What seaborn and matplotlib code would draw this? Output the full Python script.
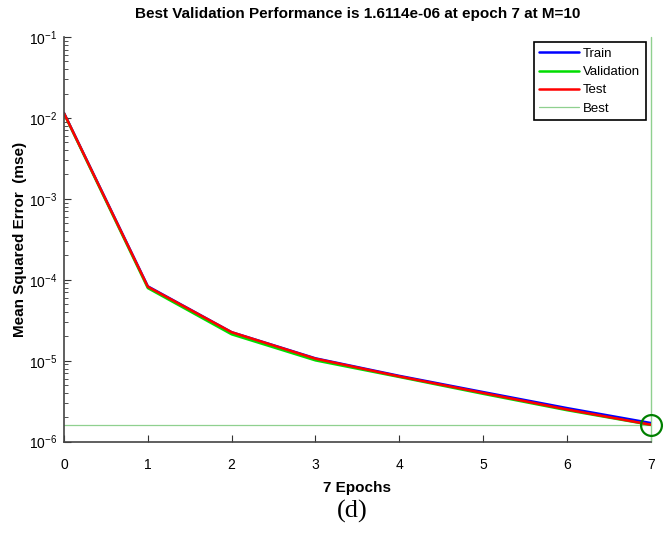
import numpy as np
import pandas as pd
import matplotlib
matplotlib.use("Agg")
import matplotlib.pyplot as plt
import seaborn as sns
from matplotlib.ticker import LogLocator, FixedLocator

# performance values
epochs = [0, 1, 2, 3, 4, 5, 6, 7]
train_mse = [1.15e-2, 8.3e-5, 2.25e-5, 1.07e-5, 6.5e-6, 4.1e-6, 2.6e-6, 1.70e-6]
val_mse = [1.13e-2, 7.9e-5, 2.12e-5, 1.01e-5, 6.3e-6, 3.9e-6, 2.45e-6, 1.6114e-6]
test_mse = [1.14e-2, 8.2e-5, 2.25e-5, 1.06e-5, 6.4e-6, 4.0e-6, 2.5e-6, 1.62e-6]
best_epoch = 7
best_perf = 1.6114e-6

df = pd.DataFrame({
    "epoch": epochs * 3,
    "mse": train_mse + val_mse + test_mse,
    "set": ["Train"] * 8 + ["Validation"] * 8 + ["Test"] * 8,
})

sns.set_style("ticks")
plt.rcParams["font.family"] = ["Liberation Sans", "DejaVu Sans"]
plt.rcParams["mathtext.default"] = "regular"
plt.rcParams["text.color"] = "black"
plt.rcParams["axes.labelcolor"] = "black"

fig = plt.figure(figsize=(6.69, 5.36), dpi=100)
ax = fig.add_axes([0.0957, 0.176, 0.877, 0.755])

palette = {"Train": "#0000ff", "Validation": "#00dd00", "Test": "#ff0000"}
sns.lineplot(data=df, x="epoch", y="mse", hue="set", palette=palette,
             linewidth=1.8, ax=ax, legend=False)

best_col = "#8fd08f"
ax.axhline(best_perf, color=best_col, linewidth=0.9, zorder=1)
ax.axvline(best_epoch, color=best_col, linewidth=1.0, zorder=1, clip_on=False)
ax.plot([best_epoch], [best_perf], marker="o", markersize=15, markerfacecolor="none",
        markeredgecolor="#008000", markeredgewidth=1.6, clip_on=False, zorder=5)

ax.set_yscale("log")
ax.set_xlim(0, 7)
ax.set_ylim(1e-6, 1e-1)
ax.xaxis.set_major_locator(FixedLocator(epochs))
ax.yaxis.set_major_locator(LogLocator(base=10, numticks=10))
ax.yaxis.set_minor_locator(LogLocator(base=10, subs=np.arange(2, 10), numticks=20))
ax.set_yticklabels(["$10^{%d}$" % p for p in np.log10(ax.get_yticks()).round().astype(int)])
ax.set_ylim(1e-6, 1e-1)

ax.tick_params(axis="both", which="major", direction="in", length=5, width=0.8,
               labelsize=10, colors="#333333", labelcolor="black")
ax.tick_params(axis="y", which="minor", direction="in", length=3, width=0.6, colors="#333333")
ax.tick_params(axis="x", pad=12)
ax.tick_params(axis="y", pad=5)

for s in ["top", "right"]:
    ax.spines[s].set_visible(False)
for s in ["left", "bottom"]:
    ax.spines[s].set_color("#444444")
    ax.spines[s].set_linewidth(1.2)

ax.set_title("Best Validation Performance is 1.6114e-06 at epoch 7 at M=10",
             fontsize=11, fontweight="bold", pad=14)
ax.set_xlabel("7 Epochs", fontsize=11, fontweight="bold", labelpad=6)
ax.set_ylabel("Mean Squared Error  (mse)", fontsize=11, fontweight="bold", labelpad=1)

handles = [
    plt.Line2D([], [], color="#0000ff", linewidth=1.8),
    plt.Line2D([], [], color="#00dd00", linewidth=1.8),
    plt.Line2D([], [], color="#ff0000", linewidth=1.8),
    plt.Line2D([], [], color=best_col, linewidth=0.9),
]
leg = ax.legend(handles, ["Train", "Validation", "Test", "Best"], loc="upper right",
                bbox_to_anchor=(0.992, 0.988), borderaxespad=0, fontsize=9.5,
                fancybox=False, edgecolor="black", framealpha=1, handlelength=3.0,
                borderpad=0.45, labelspacing=0.45, handletextpad=0.3)
leg.get_frame().set_linewidth(1.2)

fig.text(0.527, 0.045, "(d)", fontsize=19, family=["Liberation Serif", "DejaVu Serif"],
         ha="center", va="center")

fig.savefig("out.png", dpi=100)
